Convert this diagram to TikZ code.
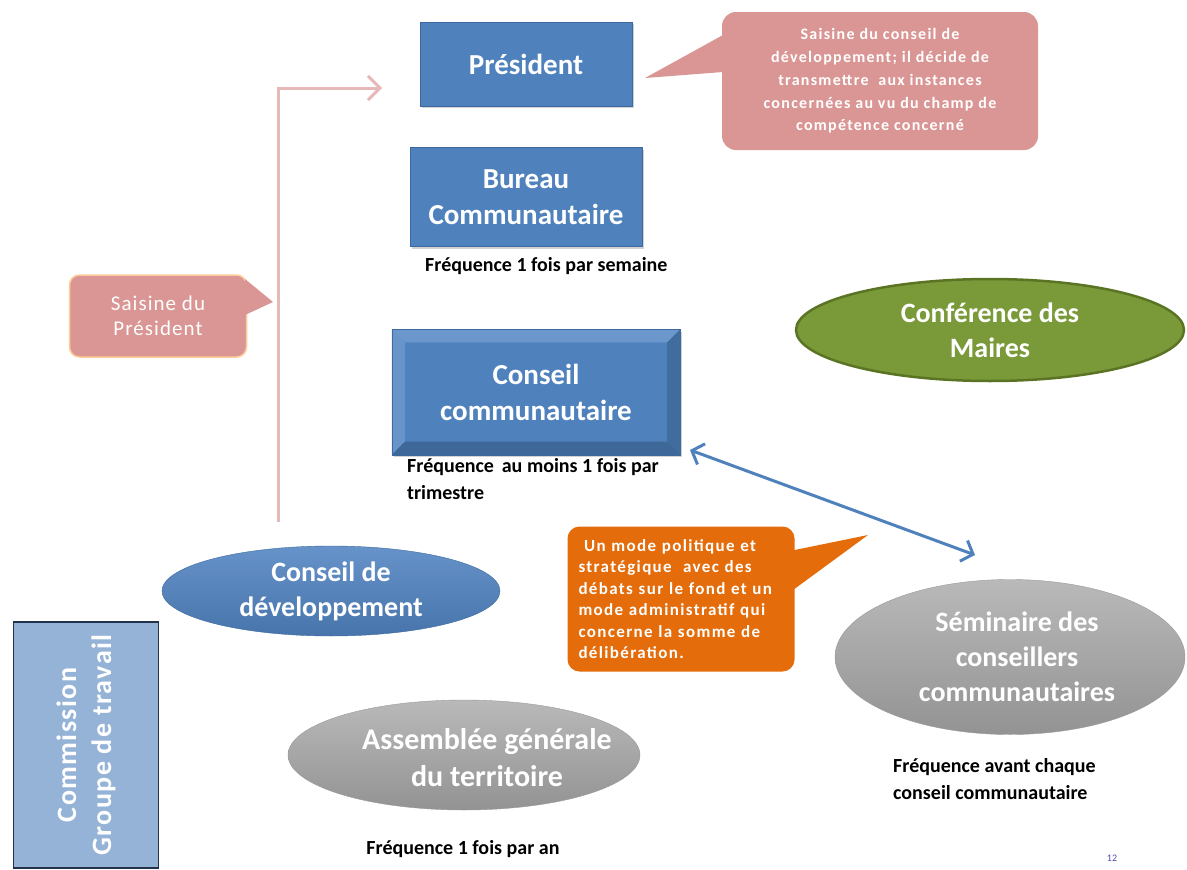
\documentclass[tikz,border=0pt]{standalone}
\usepackage{fontspec}
\setmainfont{Carlito}
\usetikzlibrary{shapes.geometric,arrows.meta,shadows}

\definecolor{boxblue}{HTML}{4F81BD}
\definecolor{boxedge}{HTML}{3C6A9F}
\definecolor{bevellight}{HTML}{6C97CC}
\definecolor{beveldark}{HTML}{3D6898}
\definecolor{calloutpink}{HTML}{D99694}
\definecolor{arrowpink}{HTML}{E6B9B8}
\definecolor{mairegreen}{HTML}{7A9A3A}
\definecolor{mairedge}{HTML}{5A7424}
\definecolor{notesorange}{HTML}{E46C0A}
\definecolor{graytop}{HTML}{B9B9B9}
\definecolor{graybottom}{HTML}{939393}
\definecolor{commblue}{HTML}{95B3D7}
\definecolor{commedge}{HTML}{22324A}

% spaced-out bold used inside the callouts
\newcommand{\spaced}[1]{\addfontfeatures{LetterSpace=#1}}

\begin{document}
\begin{tikzpicture}[x=1pt, y=-1pt,
  box/.style={draw=boxedge, fill=boxblue, text=white, align=center,
    font=\fontsize{29}{36}\selectfont\bfseries,
    drop shadow={opacity=0.35, shadow xshift=2pt, shadow yshift=-2pt}},
  oval/.style={ellipse, text=white, align=center, inner sep=0pt,
    font=\fontsize{28}{35}\selectfont\bfseries},
  bluebubble/.style={oval, draw=boxedge, top color=bevellight!80!boxblue, bottom color=boxblue!90!black},
  graybubble/.style={oval, draw=gray!80, top color=graytop, bottom color=graybottom},
  note/.style={rounded corners=14pt, text=white, align=center},
  freq/.style={font=\fontsize{20}{27}\selectfont\bfseries, align=left, inner sep=0pt},
  link/.style={-{Straight Barb[length=12pt, width=24pt]}, arrowpink, line width=3pt},
  both/.style={{Straight Barb[length=10pt, width=22pt]}-{Straight Barb[length=10pt, width=22pt]}, boxblue, line width=3pt}
]
  \useasboundingbox (0,0) rectangle (1187,870);

  % President and bureau
  \node[box, minimum width=212, minimum height=84] (pres) at (526,64) {Président};
  \node[box, minimum width=232, minimum height=99] (bureau) at (526,197) {Bureau\\Communautaire};
  \node[freq, anchor=west] (freqbureau) at (425,266) {Fréquence 1 fois par semaine};

  % Conseil communautaire, bevelled box
  \node[box, minimum width=288, minimum height=125] (conseil) at (536,392) {};
  \fill[bevellight] (conseil.north west) -- (conseil.north east) -- ([shift={(-13,13)}]conseil.north east)
    -- ([shift={(13,13)}]conseil.north west) -- cycle;
  \fill[bevellight!85!boxblue] (conseil.north west) -- ([shift={(13,13)}]conseil.north west)
    -- ([shift={(13,-13)}]conseil.south west) -- (conseil.south west) -- cycle;
  \fill[beveldark] (conseil.south west) -- (conseil.south east) -- ([shift={(-13,-13)}]conseil.south east)
    -- ([shift={(13,-13)}]conseil.south west) -- cycle;
  \fill[beveldark!85!boxblue] (conseil.north east) -- ([shift={(-13,13)}]conseil.north east)
    -- ([shift={(-13,-13)}]conseil.south east) -- (conseil.south east) -- cycle;
  \draw[boxedge] (conseil.north west) rectangle (conseil.south east);
  \node[text=white, align=center, font=\fontsize{29}{36}\selectfont\bfseries] (conseiltext) at (conseil)
    {Conseil\\communautaire};
  \node[freq, anchor=north west] (freqconseil) at (407,458) {Fréquence\, au moins 1 fois par\\trimestre};

  % Conference des maires
  \node[oval, minimum width=388, minimum height=102, fill=mairegreen, draw=mairedge, line width=2.5pt]
    (maires) at (990,330) {Conférence des\\Maires};

  % Callout next to the president
  \node[note, fill=calloutpink, minimum width=316, minimum height=138,
    font=\fontsize{16}{22.7}\selectfont\bfseries\spaced{8}] (saisinecd) at (880,81)
    {Saisine du conseil de\\développement; il décide de\\transmettre \ aux instances\\concernées au vu du champ de\\compétence concerné};
  \coordinate (tipcd) at (645,78);
  \fill[calloutpink] (723,35) -- (tipcd) -- (723,72) -- cycle;

  % Callout on the left
  \node[note, rounded corners=10pt, fill=calloutpink, draw=orange!40, line width=1.5pt,
    minimum width=177, minimum height=82, font=\fontsize{21}{25}\selectfont\spaced{5}] (saisinepres) at (158,316)
    {Saisine du\\Président};
  \coordinate (tippres) at (273,302);
  \fill[calloutpink] (245,279) -- (tippres) -- (245,315) -- cycle;

  % Conseil de developpement
  \node[bluebubble, minimum width=338, minimum height=90] (cdev) at (331,591) {Conseil de\\développement};
  \coordinate (linkstart) at (278,522);
  \coordinate (linkend) at (382,88);
  \draw[link] (linkstart) |- (linkend);

  % Orange callout
  \node[note, rounded corners=12pt, fill=notesorange, minimum width=227, minimum height=145,
    text width=205, align=left, font=\fontsize{17}{21.5}\selectfont\bfseries\spaced{8}] (modes) at (681,599)
    {\ Un mode politique et\\stratégique \ avec des\\débats sur le fond et un\\mode administratif qui\\concerne la somme de\\délibération.};
  \coordinate (tipmodes) at (868,535);
  \fill[notesorange] (785,552) -- (tipmodes) -- (793,590) -- cycle;

  % Seminaire
  \node[graybubble, minimum width=350, minimum height=155] (seminaire) at (1010,657) {};
  \node[text=white, align=center, font=\fontsize{28}{35}\selectfont\bfseries] (seminairetext) at (1017,657)
    {Séminaire des\\conseillers\\communautaires};
  \node[freq, anchor=north west] (freqseminaire) at (893,758) {Fréquence avant chaque\\conseil communautaire};
  \coordinate (conseiltip) at (690,450);
  \coordinate (seminairetip) at (975,555);
  \draw[both] (conseiltip) -- (seminairetip);

  % Assemblee generale
  \node[graybubble, minimum width=352, minimum height=110] (assemblee) at (464,755) {};
  \node[text=white, align=center, font=\fontsize{30}{37}\selectfont\bfseries] (assembleetext) at (487,758)
    {Assemblée générale\\du territoire};
  \node[freq] (freqassemblee) at (463,849) {Fréquence 1 fois par an};

  % Commission
  \node[draw=commedge, line width=1.5pt, fill=commblue, minimum width=246, minimum height=145,
    rotate=90, text=white, align=center, font=\fontsize{28}{35}\selectfont\bfseries\spaced{5}] (commission) at (86,745)
    {Commission\\Groupe de travail};

  \node[text=gray!60!blue, font=\fontsize{10}{12}\selectfont] (pagenum) at (1112,858) {12};
\end{tikzpicture}
\end{document}
